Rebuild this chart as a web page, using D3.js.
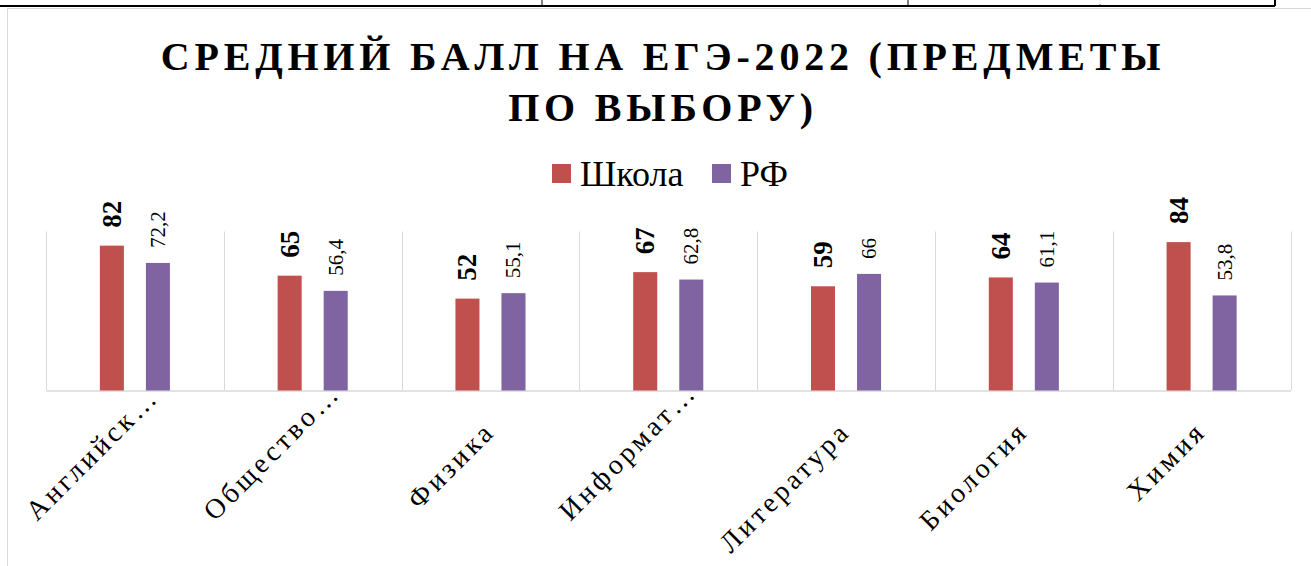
<!DOCTYPE html>
<html>
<head>
<meta charset="utf-8">
<script src="https://cdn.jsdelivr.net/npm/d3@7/dist/d3.min.js"></script>
<style>
  html, body { margin: 0; padding: 0; background: #fff; }
  svg text, svg tspan { font-family: "Liberation Serif", "Times New Roman", serif !important; }
</style>
</head>
<body>
<svg id="chart" width="1311" height="566"></svg>
<script>
// ---- data ----
const categories = ["Английский язык", "Обществознание", "Физика", "Информатика", "Литература", "Биология", "Химия"];
const tickLabels = ["Английск…", "Общество…", "Физика", "Информат…", "Литература", "Биология", "Химия"];
const seriesNames = ["Школа", "РФ"];
const schoolValues = [82, 65, 52, 67, 59, 64, 84];
const rfValues = [72.2, 56.4, 55.1, 62.8, 66, 61.1, 53.8];
const yDomain = [0, 90];
const titleLines = ["СРЕДНИЙ БАЛЛ НА ЕГЭ-2022 (ПРЕДМЕТЫ", "ПО ВЫБОРУ)"];

const colors = { "Школа": "#C0504D", "РФ": "#8064A2" };
const FONT = '"Liberation Serif", "Times New Roman", serif';

const svg = d3.select("#chart");
const serif = sel => sel.attr("font-family", FONT).style("font-family", FONT, "important");

// page decorations (table border above the chart)
svg.append("line").attr("x1", 0).attr("x2", 1275).attr("y1", 6).attr("y2", 6)
  .attr("stroke", "#000").attr("stroke-width", 2);
[542, 908, 1275].forEach(x => {
  svg.append("line").attr("x1", x).attr("x2", x).attr("y1", 0).attr("y2", 6)
    .attr("stroke", "#000").attr("stroke-width", x === 1275 ? 2 : 1);
});
svg.append("text").attr("x", 1099).attr("y", 5).attr("font-size", 7).call(serif).text(",");
// chart frame
svg.append("path").attr("d", "M7.5,566 V8.5 H1311").attr("fill", "none")
  .attr("stroke", "#d9d9d9").attr("stroke-width", 1);

// ---- scales ----
const x0 = d3.scaleBand().domain(categories).range([46, 1290.5]).padding(0);
const x1 = d3.scaleBand().domain(seriesNames).range([0, x0.bandwidth()])
  .paddingInner(0.478).paddingOuter(1.17);
const y = d3.scaleLinear().domain(yDomain).range([390.5, 231.5]);

// gridlines (category separators)
const edges = categories.map(c => x0(c)).concat([x0.range()[1]]);
svg.append("g").selectAll("line").data(edges).join("line")
  .attr("x1", d => Math.round(d) + 0.5).attr("x2", d => Math.round(d) + 0.5)
  .attr("y1", y(yDomain[1])).attr("y2", y(0))
  .attr("stroke", "#d9d9d9").attr("stroke-width", 1);
// baseline axis
const xAxis = d3.axisBottom(x0).tickSize(0).tickFormat("");
const axG = svg.append("g").attr("transform", `translate(0,${y(0)})`).call(xAxis);
axG.select(".domain").attr("stroke", "#d9d9d9").attr("stroke-width", 1.5);

// ---- bars ----
const rows = categories.map((c, i) => ({ cat: c, label: tickLabels[i], vals: [
  { s: "Школа", v: schoolValues[i] }, { s: "РФ", v: rfValues[i] }] }));

const groups = svg.append("g").selectAll("g").data(rows).join("g")
  .attr("transform", d => `translate(${x0(d.cat)},0)`);

groups.selectAll("rect").data(d => d.vals).join("rect")
  .attr("x", d => x1(d.s)).attr("width", x1.bandwidth())
  .attr("y", d => y(d.v)).attr("height", d => y(0) - y(d.v))
  .attr("fill", d => colors[d.s]);

// value labels
const fmt = v => String(v).replace(".", ",");
groups.selectAll("text.val").data(d => d.vals).join("text")
  .attr("class", "val")
  .attr("transform", d => {
    const cx = x1(d.s) + x1.bandwidth() / 2;
    const gap = d.s === "Школа" ? 18 : 15;
    return `translate(${cx},${y(d.v) - gap}) rotate(-90)`;
  })
  .attr("text-anchor", "start")
  .attr("dominant-baseline", "central")
  .call(serif)
  .attr("font-size", d => d.s === "Школа" ? 27 : 21)
  .attr("font-weight", d => d.s === "Школа" ? "bold" : "normal")
  .attr("fill", "#000")
  .text(d => fmt(d.v));

// category labels
groups.append("text")
  .attr("class", "cat")
  .attr("transform", d => {
    const cx = x0.bandwidth() / 2;
    const trunc = d.label.endsWith("…");
    return trunc ? `translate(${cx - 98},522) rotate(-45)` : `translate(${cx + 6},433) rotate(-45)`;
  })
  .attr("text-anchor", d => d.label.endsWith("…") ? "start" : "end")
  .call(serif)
  .attr("font-size", 28)
  .attr("letter-spacing", 3.5)
  .attr("fill", "#000")
  .text(d => d.label);

// ---- title ----
svg.append("text")
  .attr("x", 663).attr("y", 70)
  .attr("text-anchor", "middle")
  .call(serif)
  .attr("font-size", 40).attr("font-weight", "bold")
  .attr("letter-spacing", 4.8)
  .selectAll("tspan").data(titleLines).join("tspan")
  .attr("x", 663).attr("dy", (d, i) => i === 0 ? 0 : 51)
  .call(serif)
  .text(d => d);

// ---- legend ----
const legendX = [552, 712];
seriesNames.forEach((s, i) => {
  svg.append("rect").attr("x", legendX[i]).attr("y", 164).attr("width", 19).attr("height", 19)
    .attr("fill", colors[s]);
  svg.append("text").attr("x", legendX[i] + 28).attr("y", 186)
    .call(serif)
    .attr("font-size", 36).attr("fill", "#000").text(s);
});
</script>
</body>
</html>
